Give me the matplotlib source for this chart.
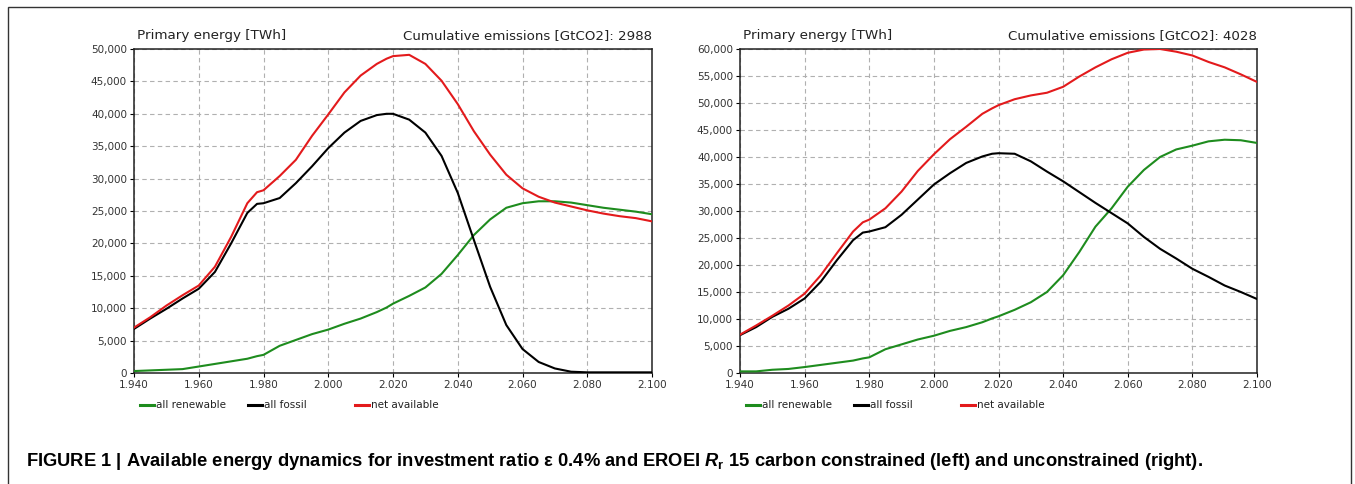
import numpy as np
import matplotlib
matplotlib.use("Agg")
import matplotlib.pyplot as plt
from matplotlib.lines import Line2D
from matplotlib.patches import Rectangle

plt.rcParams['font.family'] = ['DejaVu Sans']
plt.rcParams['mathtext.fontset'] = 'custom'
plt.rcParams['mathtext.rm'] = 'Liberation Sans:bold'
plt.rcParams['mathtext.it'] = 'Liberation Sans:italic:bold'

# years of the simulation
years = [1940, 1945, 1950, 1955, 1960, 1965, 1970, 1975, 1978, 1980, 1985, 1990,
         1995, 2000, 2005, 2010, 2015, 2018, 2020, 2025, 2030, 2035, 2040, 2045,
         2050, 2055, 2060, 2065, 2070, 2075, 2080, 2085, 2090, 2095, 2100]

# carbon constrained (left), values in 1000 TWh
left_renew = [0.3, 0.4, 0.5, 0.6, 1.0, 1.4, 1.8, 2.2, 2.6, 2.8, 4.2, 5.1,
              6.0, 6.7, 7.6, 8.4, 9.4, 10.1, 10.7, 11.9, 13.2, 15.3, 18.2, 21.3,
              23.7, 25.5, 26.2, 26.5, 26.5, 26.3, 25.9, 25.5, 25.2, 24.9, 24.5]
left_fossil = [6.8, 8.4, 9.9, 11.5, 13.0, 15.6, 20.0, 24.7, 26.1, 26.2, 27.0, 29.3,
               31.9, 34.7, 37.1, 38.9, 39.8, 40.0, 40.0, 39.1, 37.1, 33.5, 27.8, 20.5,
               13.3, 7.4, 3.7, 1.7, 0.7, 0.2, 0.1, 0.1, 0.1, 0.1, 0.1]
left_net = [7.0, 8.6, 10.4, 12.0, 13.5, 16.4, 21.0, 26.2, 27.9, 28.2, 30.4, 32.9,
            36.6, 39.9, 43.3, 45.9, 47.7, 48.5, 48.9, 49.1, 47.7, 45.1, 41.5, 37.3,
            33.7, 30.6, 28.5, 27.2, 26.3, 25.7, 25.1, 24.6, 24.2, 23.9, 23.4]

# unconstrained (right), values in 1000 TWh
right_renew = [0.3, 0.3, 0.6, 0.75, 1.1, 1.5, 1.9, 2.3, 2.7, 2.9, 4.4, 5.3,
               6.2, 6.9, 7.8, 8.5, 9.4, 10.1, 10.5, 11.7, 13.1, 15.0, 18.1, 22.4,
               27.1, 30.5, 34.5, 37.6, 40.0, 41.4, 42.1, 42.9, 43.2, 43.1, 42.6]
right_fossil = [7.0, 8.5, 10.4, 11.9, 13.8, 16.9, 20.9, 24.6, 26.0, 26.2, 27.0, 29.3,
                32.1, 34.9, 37.0, 38.9, 40.1, 40.6, 40.7, 40.6, 39.2, 37.3, 35.5, 33.5,
                31.5, 29.6, 27.7, 25.2, 23.0, 21.2, 19.3, 17.8, 16.2, 15.0, 13.7]
right_net = [7.1, 8.8, 10.6, 12.5, 14.7, 18.1, 22.2, 26.2, 27.9, 28.4, 30.5, 33.6,
             37.4, 40.5, 43.3, 45.6, 48.0, 49.0, 49.6, 50.7, 51.4, 51.9, 53.0, 54.9,
             56.6, 58.1, 59.3, 59.9, 60.0, 59.5, 58.8, 57.6, 56.6, 55.3, 53.9]

x_ticks = [1940, 1960, 1980, 2000, 2020, 2040, 2060, 2080, 2100]
x_tick_labels = ["1.940", "1.960", "1.980", "2.000", "2.020", "2.040", "2.060", "2.080", "2.100"]
left_y_ticks = list(range(0, 50001, 5000))
right_y_ticks = list(range(0, 60001, 5000))

series_names = ["all renewable", "all fossil", "net available"]
series_colors = ["#1e8c1e", "#000000", "#e31a1c"]
emissions = [2988, 4028]

W, H = 1355, 484
fig = plt.figure(figsize=(W / 100, H / 100), dpi=100)

# axes boxes in pixels (left, top, right, bottom)
boxes = [(134, 49, 652, 373), (740, 49, 1257, 373)]
panels = [
    (left_renew, left_fossil, left_net, left_y_ticks),
    (right_renew, right_fossil, right_net, right_y_ticks),
]

for (l, t, r, b), (renew, fossil, net, yticks), emis in zip(boxes, panels, emissions):
    ax = fig.add_axes([l / W, 1 - b / H, (r - l) / W, (b - t) / H])
    for vals, col in zip([renew, fossil, net], series_colors):
        ax.plot(years, np.array(vals) * 1000, color=col, lw=1.5, zorder=3)

    ax.set_xlim(x_ticks[0], x_ticks[-1])
    ax.set_ylim(yticks[0], yticks[-1])
    ax.set_xticks(x_ticks, x_tick_labels)
    ax.set_yticks(yticks, [f"{v:,}" for v in yticks])
    ax.tick_params(direction='out', length=3, width=0.8, labelsize=7.5,
                   pad=2, labelcolor='#333333')
    ax.grid(color='#b0b0b0', linestyle=(0, (4, 3)), linewidth=0.8)
    for sp in ax.spines.values():
        sp.set_linewidth(1.1)
        sp.set_color('#222222')

    ax.annotate("Primary energy [TWh]", xy=(0, 1), xycoords='axes fraction',
                xytext=(3, 10), textcoords='offset pixels', ha='left',
                va='baseline', fontsize=9.7, color='#222222')
    ax.annotate(f"Cumulative emissions [GtCO2]: {emis}", xy=(1, 1),
                xycoords='axes fraction', xytext=(0, 10), textcoords='offset pixels',
                ha='right', va='baseline', fontsize=9.6, color='#222222')

    # legend under the x axis
    pw, ph = r - l, b - t
    ly = -32 / ph
    for off, name, col in zip([6, 114, 221], series_names, series_colors):
        ax.add_line(Line2D([off / pw, (off + 14) / pw], [ly, ly], color=col, lw=2.2,
                           transform=ax.transAxes, clip_on=False))
        ax.text((off + 16) / pw, ly, name, transform=ax.transAxes, fontsize=7.5,
                va='center', ha='left', color='#222222')

fig.text(26 / W, 1 - 462 / H,
         r"FIGURE 1 | Available energy dynamics for investment ratio ε 0.4% and EROEI $\mathit{R}_\mathrm{r}$ 15 "
         "carbon constrained (left) and unconstrained (right).",
         fontsize=13.2, fontweight='bold', family=['Liberation Sans', 'DejaVu Sans'],
         va='center', ha='left')

fig.add_artist(Rectangle((8 / W, -0.05), 1343 / W, 1.05 - 7 / H, fill=False,
                         edgecolor='#333333', lw=1, transform=fig.transFigure))

fig.savefig("out.png", dpi=100)
